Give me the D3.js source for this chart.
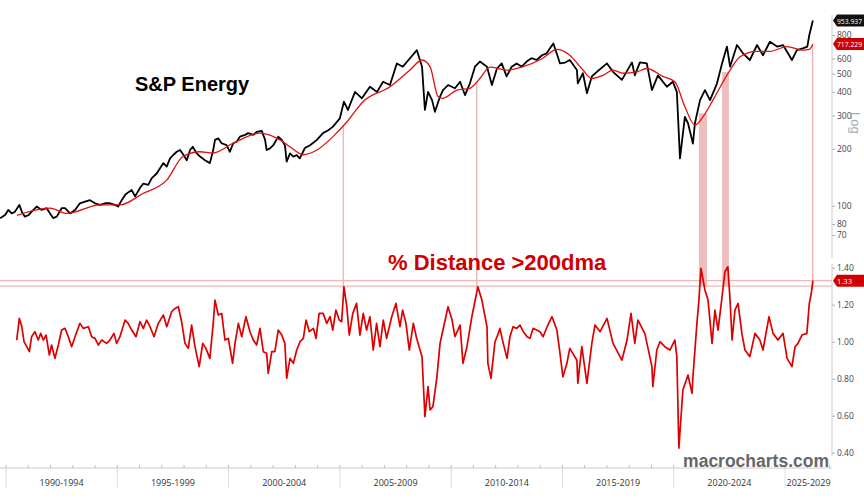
<!DOCTYPE html>
<html>
<head>
<meta charset="utf-8">
<script src="https://cdn.jsdelivr.net/npm/d3@7"></script>
<style>
  body { margin: 0; background: #fff; }
  svg { display: block; }
  text { font-family: "Liberation Sans", Arial, sans-serif; }
</style>
</head>
<body>
<div id="wrapper"></div>
<script>
// values (decimal years)
const priceYears = [1989.73,1989.96,1990.10,1990.26,1990.40,1990.60,1990.71,1990.85,1991.00,1991.23,1991.38,1991.60,1991.83,1991.98,1992.12,1992.28,1992.50,1992.65,1992.88,1993.10,1993.32,1993.55,1993.77,1994.00,1994.22,1994.45,1994.67,1994.90,1995.04,1995.20,1995.35,1995.42,1995.65,1995.80,1996.02,1996.17,1996.39,1996.55,1996.77,1996.92,1997.07,1997.22,1997.37,1997.52,1997.67,1997.82,1997.97,1998.12,1998.27,1998.39,1998.57,1998.72,1998.94,1999.16,1999.31,1999.39,1999.54,1999.69,1999.91,2000.06,2000.21,2000.36,2000.51,2000.74,2000.88,2001.11,2001.26,2001.49,2001.64,2001.71,2001.86,2002.01,2002.23,2002.39,2002.53,2002.61,2002.76,2002.91,2003.06,2003.20,2003.43,2003.66,2003.97,2004.24,2004.48,2004.69,2005.00,2005.18,2005.36,2005.68,2005.99,2006.35,2006.67,2006.94,2007.25,2007.56,2007.83,2008.15,2008.46,2008.69,2008.82,2008.96,2009.14,2009.27,2009.50,2009.63,2009.86,2010.17,2010.40,2010.62,2010.84,2011.07,2011.29,2011.61,2011.83,2012.06,2012.27,2012.49,2012.72,2012.94,2013.17,2013.39,2013.61,2013.84,2014.08,2014.29,2014.44,2014.59,2014.74,2014.89,2015.12,2015.33,2015.65,2015.69,2015.92,2016.10,2016.32,2016.55,2017.00,2017.27,2017.67,2018.12,2018.25,2018.48,2018.79,2019.02,2019.29,2019.69,2019.96,2020.14,2020.28,2020.50,2020.64,2020.86,2020.95,2021.18,2021.40,2021.63,2021.94,2022.17,2022.39,2022.53,2022.84,2023.11,2023.42,2023.74,2024.01,2024.32,2024.64,2024.91,2025.31,2025.53,2025.80,2026.00,2026.09,2026.25]
const priceValues = [85.8,89.3,94.9,91,92.9,101,93,87.5,89,95,99,95,97,91,86,87.5,97,97,91,95,103,105,107,103,101,103,103,101,99,107,114,116,121,112,124,131,129,140,148,158,168,161,178,186,193,197,186,174,197,205,189,182,174,168,197,223,227,214,209,193,214,218,232,237,242,237,246,249,223,197,201,209,232,223,209,171,189,182,185,178,202,209,223,242,251,262,290,355,321,400,370,426,400,453,435,566,544,603,665,544,321,400,362,314,378,409,435,418,453,385,443,544,579,544,435,532,566,483,544,566,544,579,603,590,625,640,680,721,640,566,572,590,522,444,502,394,483,511,566,511,463,573,489,573,566,409,489,426,453,400,178,295,273,213,273,362,409,362,443,566,695,544,708,640,590,708,625,737,695,708,590,665,680,695,800,953.937]

const maYears = [1990.49,1991.98,1992.74,1994.22,1995.12,1996.15,1997.23,1997.95,1998.71,1999.30,2000.20,2001.41,2002.31,2002.76,2003.34,2003.97,2004.69,2005.32,2006.04,2007.25,2008.15,2008.69,2009.05,2009.41,2009.63,2010.26,2010.84,2011.29,2011.74,2012.51,2013.23,2014.12,2014.75,2015.33,2015.92,2016.32,2016.82,2017.27,2017.72,2018.34,2018.79,2019.51,2020.05,2020.50,2020.95,2021.31,2021.76,2022.53,2022.98,2023.74,2024.32,2025.09,2025.80,2026.09,2026.25]
const maValues = [89,97,91,101,101,116,137,182,193,190,214,242,223,205,186,197,232,278,355,426,522,590,544,378,370,409,418,471,541,522,544,603,671,625,522,471,489,522,502,511,532,483,453,334,267,295,362,522,614,655,655,695,665,671,717.229]

const ratioYears = [1990.48,1990.60,1990.71,1990.81,1990.93,1991.05,1991.15,1991.30,1991.45,1991.56,1991.68,1991.80,1991.95,1992.05,1992.20,1992.35,1992.50,1992.65,1992.80,1992.95,1993.10,1993.32,1993.47,1993.70,1993.85,1994.00,1994.15,1994.30,1994.52,1994.67,1994.85,1994.97,1995.12,1995.35,1995.49,1995.65,1995.84,1996.02,1996.17,1996.32,1996.47,1996.65,1996.84,1997.07,1997.22,1997.44,1997.59,1997.74,1997.89,1998.04,1998.19,1998.34,1998.49,1998.68,1998.84,1998.98,1999.16,1999.31,1999.39,1999.54,1999.69,1999.84,1999.99,2000.18,2000.29,2000.44,2000.59,2000.78,2000.96,2001.11,2001.26,2001.41,2001.56,2001.71,2001.78,2001.94,2002.08,2002.23,2002.39,2002.53,2002.61,2002.76,2002.91,2003.06,2003.21,2003.36,2003.48,2003.63,2003.81,2003.93,2004.07,2004.25,2004.41,2004.56,2004.68,2004.82,2004.97,2005.08,2005.18,2005.31,2005.42,2005.58,2005.75,2005.90,2006.05,2006.20,2006.35,2006.50,2006.65,2006.80,2006.95,2007.10,2007.33,2007.52,2007.70,2007.82,2007.97,2008.12,2008.30,2008.45,2008.69,2008.82,2008.96,2009.05,2009.18,2009.36,2009.50,2009.63,2009.86,2010.04,2010.17,2010.40,2010.53,2010.71,2010.93,2011.20,2011.38,2011.61,2011.65,2011.79,2011.97,2012.12,2012.19,2012.34,2012.51,2012.64,2012.78,2012.94,2013.09,2013.24,2013.41,2013.54,2013.68,2013.84,2013.99,2014.13,2014.31,2014.53,2014.75,2014.89,2015.02,2015.20,2015.33,2015.65,2015.69,2015.87,2016.10,2016.32,2016.46,2016.69,2017.00,2017.27,2017.67,2017.90,2018.08,2018.25,2018.39,2018.70,2019.02,2019.06,2019.24,2019.38,2019.60,2019.83,2020.05,2020.14,2020.23,2020.41,2020.64,2020.82,2020.86,2021.04,2021.13,2021.22,2021.40,2021.54,2021.72,2021.85,2021.99,2022.17,2022.30,2022.43,2022.53,2022.62,2022.75,2022.89,2023.06,2023.20,2023.42,2023.65,2023.87,2024.01,2024.28,2024.46,2024.68,2024.91,2025.09,2025.31,2025.45,2025.58,2025.76,2025.98,2026.09,2026.18,2026.25]
const ratioValues = [1.009,1.126,1.081,1.0,0.973,0.946,1.027,1.054,1.009,1.045,1.009,1.036,0.928,0.982,0.91,0.982,1.063,1.072,1.027,0.973,1.027,1.099,1.072,1.081,1.027,1.018,0.982,1.009,0.991,1.009,1.045,0.991,1.027,1.117,1.099,1.063,1.027,1.108,1.072,1.117,1.081,1.027,1.099,1.144,1.081,1.162,1.18,1.189,1.108,0.991,0.964,1.09,0.973,0.865,0.991,0.964,0.91,1.099,1.225,1.144,1.153,1.009,1.018,0.883,0.991,1.099,1.027,1.135,1.054,1.009,0.982,1.072,0.946,0.937,0.829,0.946,0.946,1.063,1.036,0.991,0.802,0.91,0.883,0.955,1.0,1.018,1.117,1.054,1.072,1.018,1.153,1.153,1.099,1.135,1.063,1.171,1.117,1.108,1.297,1.189,1.036,1.153,1.207,1.036,1.153,1.063,1.135,0.955,1.099,0.973,1.117,1.018,1.135,1.207,1.081,1.171,1.099,0.955,1.099,1.018,0.919,0.595,0.757,0.631,0.649,0.81,0.991,1.063,1.189,1.117,1.027,1.09,0.883,0.973,1.135,1.297,1.225,1.081,0.883,0.802,1.0,1.045,1.072,0.991,0.91,1.027,1.081,1.072,1.09,1.054,1.027,1.018,1.072,1.063,1.054,1.027,1.081,1.135,1.063,0.937,0.81,0.883,0.964,0.90,0.775,0.973,0.775,0.991,1.09,1.054,1.126,0.991,0.90,1.009,1.153,0.991,1.117,1.045,0.865,0.757,0.955,1.0,0.973,0.955,1.009,0.919,0.424,0.739,0.82,0.721,0.81,1.099,1.225,1.397,1.28,1.225,0.991,1.171,1.063,1.243,1.378,1.405,1.225,1.009,1.171,1.207,1.045,0.955,0.919,1.045,1.009,0.955,1.135,1.045,1.009,1.045,0.91,0.865,0.973,0.991,1.036,1.045,1.207,1.262,1.33]

const eventYears = [2005.15, 2011.15, 2026.24]
const bandRanges = [[2021.13, 2021.49], [2022.17, 2022.48]]
const thresholdLevels = [1.30, 1.33]

const priceTicks = [70, 80, 100, 200, 300, 400, 500, 600, 800]
const ratioTicks = [0.4, 0.6, 0.8, 1.0, 1.2, 1.4]

function draw() {
  const dimensions = {
    width: 864,
    height: 499,
    plotRight: 832,
    axisY: 468,
  }

  const toDate = t => {
    const y = Math.floor(t)
    const start = new Date(y, 0, 1), end = new Date(y + 1, 0, 1)
    return new Date(+start + (t - y) * (end - start))
  }

  const svg = d3.select("#wrapper").append("svg")
    .attr("width", dimensions.width)
    .attr("height", dimensions.height)

  // scales
  const xScale = d3.scaleTime()
    .domain([toDate(1989.73), toDate(2027.11)])
    .range([0, dimensions.plotRight])

  const yPrice = d3.scaleLog()
    .domain([100, 1000])
    .range([205.7, 16.7])

  const yRatio = d3.scaleLinear()
    .domain([1, 1.4])
    .range([341.7, 267.7])

  const price = priceYears.map((t, i) => ({ date: toDate(t), value: priceValues[i] }))
  const ma = maYears.map((t, i) => ({ date: toDate(t), value: maValues[i] }))
  const ratio = ratioYears.map((t, i) => ({ date: toDate(t), value: ratioValues[i] }))

  // value of a series at a date, for anchoring the markers
  const valueAt = (series, date) => {
    const bis = d3.bisector(d => d.date).left
    const i = Math.min(Math.max(bis(series, date), 1), series.length - 1)
    const a = series[i - 1], b = series[i]
    const k = Math.max(0, Math.min(1, (date - a.date) / (b.date - a.date)))
    return a.value + (b.value - a.value) * k
  }

  // threshold lines
  svg.append("g").selectAll("line")
    .data(thresholdLevels)
    .join("line")
      .attr("x1", 0)
      .attr("x2", dimensions.plotRight)
      .attr("y1", d => yRatio(d))
      .attr("y2", d => yRatio(d))
      .attr("stroke", "#f2b8b8")
      .attr("stroke-width", 1.2)

  // shaded bands
  const bandTop = d => yPrice(valueAt(price, toDate(d[0])) * 0.9)
  svg.append("g").selectAll("rect")
    .data(bandRanges)
    .join("rect")
      .attr("x", d => xScale(toDate(d[0])))
      .attr("width", d => xScale(toDate(d[1])) - xScale(toDate(d[0])))
      .attr("y", bandTop)
      .attr("height", d => yRatio(1.30) - bandTop(d))
      .attr("fill", "#e8a8a8")
      .attr("opacity", 0.75)

  // event lines
  svg.append("g").selectAll("line")
    .data(eventYears)
    .join("line")
      .attr("x1", d => xScale(toDate(d)))
      .attr("x2", d => xScale(toDate(d)))
      .attr("y1", d => yPrice(valueAt(ma, toDate(d))))
      .attr("y2", yRatio(1.30) + 3)
      .attr("stroke", "#eeaaaa")
      .attr("stroke-width", 1.2)

  // lines
  const priceLine = d3.line()
    .x(d => xScale(d.date))
    .y(d => yPrice(d.value))

  svg.append("path")
    .datum(price)
    .attr("d", priceLine)
    .attr("fill", "none")
    .attr("stroke", "#000")
    .attr("stroke-width", 1.8)
    .attr("stroke-linejoin", "round")

  svg.append("path")
    .datum(ma)
    .attr("d", priceLine.curve(d3.curveMonotoneX))
    .attr("fill", "none")
    .attr("stroke", "#e01010")
    .attr("stroke-width", 1.3)

  const ratioLine = d3.line()
    .x(d => xScale(d.date))
    .y(d => yRatio(d.value))

  svg.append("path")
    .datum(ratio)
    .attr("d", ratioLine)
    .attr("fill", "none")
    .attr("stroke", "#dd0000")
    .attr("stroke-width", 1.7)
    .attr("stroke-linejoin", "round")

  // right axes
  const priceAxis = d3.axisRight(yPrice)
    .tickValues(priceTicks)
    .tickFormat(d3.format("d"))
    .tickSize(3)
    .tickPadding(2)

  const ratioAxis = d3.axisRight(yRatio)
    .tickValues(ratioTicks)
    .tickFormat(d3.format(".2f"))
    .tickSize(3)
    .tickPadding(2)

  const styleAxis = g => {
    g.select(".domain").remove()
    g.selectAll(".tick line").attr("stroke", "#aaa")
    g.selectAll(".tick text")
      .attr("fill", "#444")
      .style("font-size", "8.5px")
      .style("font-family", "'Open Sans', sans-serif")
  }

  svg.append("g")
    .attr("transform", `translate(${dimensions.plotRight},0)`)
    .call(priceAxis)
    .call(styleAxis)

  svg.append("g")
    .attr("transform", `translate(${dimensions.plotRight},0)`)
    .call(ratioAxis)
    .call(styleAxis)

  svg.append("line")
    .attr("x1", dimensions.plotRight).attr("x2", dimensions.plotRight)
    .attr("y1", 15).attr("y2", 258)
    .attr("stroke", "#ccc")
  svg.append("line")
    .attr("x1", dimensions.plotRight).attr("x2", dimensions.plotRight)
    .attr("y1", 264).attr("y2", 456)
    .attr("stroke", "#ccc")

  svg.append("text")
    .attr("transform", "translate(851,112) rotate(90)")
    .attr("fill", "#aaa")
    .style("font-size", "13px")
    .text("Log")

  // last value tags
  const tag = (y, label, fill) => {
    const x0 = dimensions.plotRight + 1
    svg.append("path")
      .attr("d", `M${x0},${y} L${x0 + 4},${y - 6} H864 V${y + 6} H${x0 + 4} Z`)
      .attr("fill", fill)
    svg.append("text")
      .attr("x", x0 + 4)
      .attr("y", y + 3)
      .attr("fill", "#fff")
      .attr("textLength", label.length > 4 ? 25 : 15)
      .attr("lengthAdjust", "spacingAndGlyphs")
      .style("font-size", "8px")
      .style("font-family", "'Open Sans', sans-serif")
      .text(label)
  }
  const lastPrice = priceValues[priceValues.length - 1]
  const lastMa = maValues[maValues.length - 1]
  const lastRatio = ratioValues[ratioValues.length - 1]
  tag(yPrice(lastPrice), d3.format(".3f")(lastPrice), "#111")
  tag(yPrice(lastMa), d3.format(".3f")(lastMa), "#d00000")
  tag(yRatio(lastRatio), d3.format(".2f")(lastRatio), "#d00000")

  // bottom time axis
  const bottom = svg.append("g")
  bottom.append("line")
    .attr("x1", 0).attr("x2", dimensions.plotRight)
    .attr("y1", dimensions.axisY).attr("y2", dimensions.axisY)
    .attr("stroke", "#ccc")

  const years = d3.timeYear.range(xScale.domain()[0], xScale.domain()[1])
  bottom.selectAll(".minor")
    .data(years)
    .join("line")
      .attr("class", "minor")
      .attr("x1", d => xScale(d)).attr("x2", d => xScale(d))
      .attr("y1", dimensions.axisY - 3).attr("y2", dimensions.axisY)
      .attr("stroke", "#bbb")

  const periods = years.filter(d => d.getFullYear() % 5 === 0)
  bottom.selectAll(".sep")
    .data(periods)
    .join("line")
      .attr("class", "sep")
      .attr("x1", d => xScale(d)).attr("x2", d => xScale(d))
      .attr("y1", dimensions.axisY).attr("y2", dimensions.axisY + 20)
      .attr("stroke", "#ddd")

  bottom.selectAll(".period")
    .data(periods)
    .join("text")
      .attr("class", "period")
      .attr("x", d => {
        const x0 = Math.max(0, xScale(d))
        const x1 = Math.min(dimensions.plotRight, xScale(new Date(d.getFullYear() + 5, 0, 1)))
        return (x0 + x1) / 2
      })
      .attr("y", dimensions.axisY + 18)
      .attr("text-anchor", "middle")
      .attr("fill", "#333")
      .style("font-size", "9px")
      .style("font-family", "'Open Sans', sans-serif")
      .text(d => `${d.getFullYear()}-${d.getFullYear() + 4}`)

  // titles
  svg.append("text")
    .attr("x", 135).attr("y", 91)
    .attr("font-weight", "bold")
    .style("font-size", "20px")
    .attr("fill", "#000")
    .text("S&P Energy")

  svg.append("text")
    .attr("x", 388).attr("y", 270)
    .attr("font-weight", "bold")
    .style("font-size", "22px")
    .attr("fill", "#d00000")
    .text("% Distance >200dma")

  svg.append("text")
    .attr("x", 829).attr("y", 467)
    .attr("text-anchor", "end")
    .attr("font-weight", "bold")
    .style("font-size", "17.5px")
    .attr("fill", "#666")
    .text("macrocharts.com")
}

draw()
</script>
</body>
</html>
